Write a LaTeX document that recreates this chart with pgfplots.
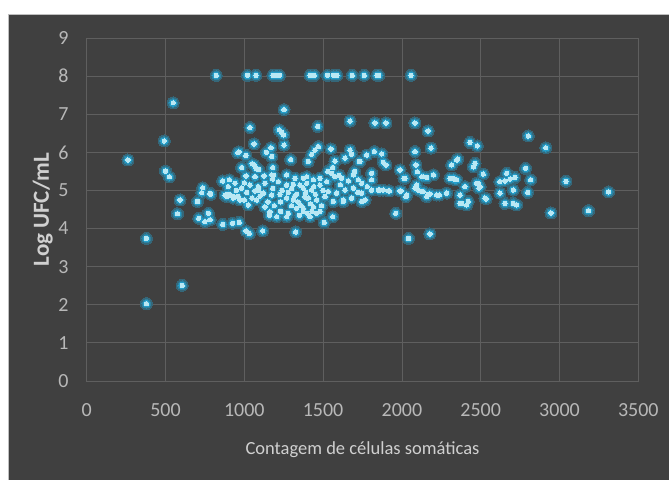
\documentclass[border=0pt]{standalone}
\usepackage{fontspec}
\setmainfont{Carlito}
\usepackage{pgfplots}
\pgfplotsset{compat=1.18}
\usepackage{pgfplotstable}
\definecolor{bg}{HTML}{404040}
\definecolor{gridc}{HTML}{5F5F5F}
\definecolor{tickc}{HTML}{B8B8B8}
\definecolor{labc}{HTML}{D0D0D0}
\definecolor{glow}{HTML}{22A6D6}
\definecolor{core}{HTML}{B9E8F4}
\colorlet{g1}{glow!38!bg}
\colorlet{g2}{glow!65!bg}
\colorlet{g3}{glow!92!bg}

\pgfplotstableread{
x y
822 8.02
1020 8.02
1074 8.02
1182 8.02
1196 8.02
1204 8.02
1212 8.02
1223 8.02
1417 8.02
1444 8.02
1528 8.02
1566 8.02
1588 8.02
1685 8.02
1761 8.02
1842 8.02
1853 8.02
2058 8.02
262 5.80
379 3.74
379 2.03
549 7.30
492 6.30
500 5.51
525 5.36
592 4.75
576 4.39
606 2.51
703 4.71
736 5.07
730 4.94
711 4.27
750 4.18
772 4.40
783 4.23
782 4.92
863 4.11
926 4.14
968 4.16
1011 3.94
1032 3.87
1117 3.94
1326 3.91
1507 4.16
1561 4.31
2042 3.74
2178 3.86
1961 4.40
2913 6.12
2802 6.43
3041 5.24
2946 4.41
3184 4.47
3311 4.96
1252 7.12
1036 6.65
1466 6.68
1671 6.82
1829 6.77
1899 6.77
2083 6.77
2166 6.56
2432 6.26
2478 6.17
1222 6.59
1236 6.53
1250 6.46
1062 6.22
1252 6.19
1169 6.12
966 6.01
958 5.99
1174 5.89
1294 5.81
1062 5.67
1074 5.58
983 5.60
1180 5.60
863 5.25
905 5.28
941 5.19
983 5.06
898 5.10
1011 5.38
1068 5.36
1125 5.38
1174 5.41
1269 5.41
1322 5.32
1375 5.32
1036 5.14
1089 5.10
1131 5.19
1216 5.23
1311 5.16
1353 5.14
1396 5.19
1269 5.14
787 4.90
878 4.88
920 4.86
962 4.84
1015 4.95
1068 4.99
1121 4.93
1174 4.88
1227 4.90
1279 4.95
1332 4.90
1385 4.84
1025 4.62
1079 4.75
1131 4.57
1163 4.44
1206 4.31
1269 4.31
1279 4.40
1332 4.53
1375 4.44
888 4.84
930 4.80
973 4.75
1269 4.80
1311 4.75
1396 4.80
1470 6.15
1449 6.06
1428 5.95
1406 5.76
1550 6.09
1671 6.06
1681 5.95
1575 5.77
1639 5.85
1730 5.76
1777 5.93
1825 6.02
1872 5.96
1882 5.74
1899 5.67
2083 6.02
2089 5.67
2185 6.11
2348 5.80
2316 5.67
1988 5.54
2200 5.41
2136 5.36
2157 5.34
2020 5.32
2094 5.14
2326 5.32
2348 5.28
2400 5.10
1555 5.45
1575 5.36
1618 5.32
1692 5.41
1723 5.28
1808 5.45
1808 5.28
1745 5.19
1396 5.36
1438 5.28
1480 5.32
1523 5.23
1374 5.06
1428 5.01
1480 5.14
1533 4.97
1586 4.93
1639 5.01
1692 5.06
1745 4.93
1808 5.01
1861 5.01
1914 4.99
1988 4.99
2030 4.88
2083 5.06
2126 4.97
2168 4.90
2221 4.88
2284 4.93
2369 4.88
2421 4.71
1406 4.80
1459 4.75
1512 4.84
1565 4.71
1628 4.75
1681 4.80
1745 4.71
2464 5.71
2453 5.62
2516 5.43
2485 5.19
2496 5.10
2665 5.45
2622 5.23
2654 5.25
2686 5.30
2717 5.34
2785 5.58
2817 5.28
2707 5.01
2622 4.93
2798 4.95
2527 4.80
2654 4.66
2707 4.66
2728 4.62
2354 5.82
2305 5.32
2337 5.28
2369 4.66
2411 4.62
2474 5.19
2489 5.06
2013 5.32
1994 4.99
2026 4.84
2098 5.49
2126 5.36
2104 5.01
2136 4.97
2157 4.84
2178 4.91
2237 4.88
1851 5.01
1882 5.01
1920 4.99
1734 5.76
1417 4.31
1459 4.40
1374 4.53
1438 4.57
1628 4.71
1766 4.75
2534 4.78
2379 4.66
1150 4.70
1190 4.60
1230 4.70
1300 4.60
1340 4.70
1360 4.60
1420 4.65
1450 4.90
1490 4.60
1300 5.05
1240 5.00
1180 5.05
1100 4.85
1050 4.80
1350 4.35
1400 4.40
1430 4.45
1480 4.45
1160 4.35
1230 4.45
1320 4.85
1390 4.95
1440 5.10
1500 5.00
1530 5.50
1560 5.60
1600 5.40
1610 5.15
1660 5.25
1700 5.50
1720 4.95
1780 5.10
1000 5.20
950 5.00
900 4.90
1090 5.00
1180 5.30
1140 6.00
1185 5.40
1000 4.75
940 4.83
1010 5.92
1050 5.70
1090 5.55
}\pts

\begin{document}
\begin{tikzpicture}[x=1pt,y=1pt]
\useasboundingbox (0,0) rectangle (669,480);
\fill[white] (0,0) rectangle (669,480);
\fill[bg] (8,0) rectangle (669,466);
\draw[black!25, line width=0.8pt] (8,0) -- (8,466) -- (669,466);
\begin{axis}[
  at={(86.7pt,99pt)}, anchor=south west,
  width=551.6pt, height=343pt, scale only axis,
  xmin=0, xmax=3500, ymin=0, ymax=9,
  xtick={0,500,...,3500}, ytick={0,1,...,9},
  grid=major, major grid style={draw=gridc, line width=0.8pt},
  axis line style={draw=gridc, line width=0.8pt},
  major tick length=0pt,
  tick label style={font=\fontsize{20}{20}\selectfont, color=tickc},
  xticklabel style={inner sep=0pt, anchor=north, yshift=-22pt},
  yticklabel style={inner sep=0pt, anchor=east, xshift=-18pt},
  /pgf/number format/assume math mode=true,
  /pgf/number format/set thousands separator={},
  xlabel={Contagem de células somáticas},
  ylabel={\textbf{Log UFC/mL}},
  xlabel style={at={(axis description cs:0.5,-0.175)}, anchor=north, inner sep=0pt, font=\fontsize{18.5}{18.5}\selectfont, color=labc},
  ylabel style={at={(axis description cs:-0.061,0.5)}, anchor=south, inner sep=0pt, font=\fontsize{23}{23}\selectfont, color=labc},
  clip=false,
]
\addplot[only marks, mark=*, mark size=6pt, mark options={draw=g1, fill=g1, line width=0pt}] table {\pts};
\addplot[only marks, mark=*, mark size=4.5pt, mark options={draw=g2, fill=g2, line width=0pt}] table {\pts};
\addplot[only marks, mark=*, mark size=3.3pt, mark options={draw=g3, fill=g3, line width=0pt}] table {\pts};
\addplot[only marks, mark=*, mark size=2.2pt, mark options={draw=core, fill=core, line width=0pt}] table {\pts};
\end{axis}
\end{tikzpicture}
\end{document}
